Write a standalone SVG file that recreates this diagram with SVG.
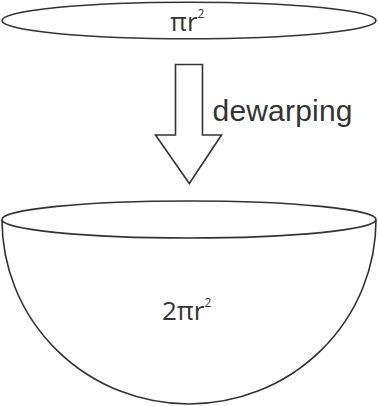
<svg xmlns="http://www.w3.org/2000/svg" width="378" height="406" viewBox="0 0 378 406">
<style>
.s{fill:#fff;stroke:#333;stroke-width:1.6}
.t{font-family:"Open Sans","Liberation Sans",sans-serif;fill:#333}
.sup{font-size:12px}
</style>
<rect width="378" height="406" fill="#fff"/>
<g id="disk">
<ellipse class="s" cx="189" cy="20.5" rx="187" ry="18.3"/>
<text class="t" x="170" y="31" font-size="26">πr<tspan class="sup" dy="-13">2</tspan></text>
</g>
<g id="arrow">
<path class="s" d="M175.5,64.5 H202.5 V135 H221.5 L189.3,183.5 L155.5,135 H175.5 Z"/>
<text x="212.5" y="121" font-size="30" font-family="Liberation Sans, Arial, sans-serif" fill="#333" textLength="140">dewarping</text>
</g>
<g id="bowl">
<path class="s" d="M2,220 A187,184 0 0 0 376,220"/>
<ellipse class="s" cx="189" cy="219.5" rx="187" ry="18.5"/>
<text class="t" x="162" y="320" font-size="26">2πr<tspan class="sup" dy="-13">2</tspan></text>
</g>
</svg>
